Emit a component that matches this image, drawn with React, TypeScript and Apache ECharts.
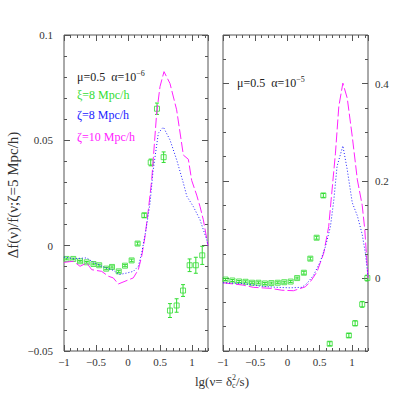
import React, { useEffect, useRef } from 'react';
import * as echarts from 'echarts';

const FONT = "'Liberation Serif', 'DejaVu Serif', serif";
const MAGENTA = '#ff22ff';
const BLUE = '#2222ff';
const GREEN = '#33dd33';
const AXIS = '#555';
const TEXT = '#333';

// ---- left panel (alpha = 1e-6) ----
const leftMagentaX = [-1, -0.855, -0.75, -0.645, -0.567, -0.411, -0.307, -0.23, -0.152, -0.047, 0.083, 0.161, 0.214, 0.266, 0.318, 0.37, 0.448, 0.5, 0.5625, 0.656, 0.76, 0.865, 0.943, 0.995, 1.073, 1.125, 1.177, 1.25];
const leftMagentaY = [-0.0079, -0.0074, -0.0098, -0.0082, -0.0114, -0.0122, -0.0145, -0.0153, -0.0182, -0.0169, -0.0153, -0.0114, -0.005, 0.0044, 0.017, 0.031, 0.063, 0.0755, 0.0826, 0.077, 0.0645, 0.043, 0.041, 0.031, 0.024, 0.0186, 0.0123, 0];

const leftBlueX = [-1, -0.85, -0.645, -0.542, -0.386, -0.23, -0.136, -0.02, 0.083, 0.161, 0.214, 0.281, 0.344, 0.39, 0.474, 0.552, 0.656, 0.76, 0.865, 0.92, 1.02, 1.125, 1.23, 1.25];
const leftBlueY = [-0.0054, -0.0062, -0.0058, -0.0079, -0.0101, -0.0117, -0.0137, -0.013, -0.0122, -0.0098, -0.0035, 0.0076, 0.0202, 0.035, 0.0534, 0.0563, 0.0502, 0.0408, 0.0297, 0.0234, 0.0186, 0.0123, 0.0028, 0];

const leftGreenX = [-0.96, -0.855, -0.75, -0.645, -0.54, -0.45, -0.34, -0.25, -0.145, -0.047, 0.057, 0.15, 0.255, 0.355, 0.453, 0.557, 0.656, 0.76, 0.86, 0.963, 1.06, 1.16];
const leftGreenY = [-0.0063, -0.0063, -0.0074, -0.0079, -0.0087, -0.0093, -0.0109, -0.0101, -0.0122, -0.0095, -0.007, 0.001, 0.0144, 0.0395, 0.065, 0.042, -0.0308, -0.0284, -0.0213, -0.0093, -0.0093, -0.0046];
const leftGreenErr = [0.0004, 0.0004, 0.0004, 0.0004, 0.0004, 0.0005, 0.0005, 0.0005, 0.0005, 0.0005, 0.0006, 0.0007, 0.001, 0.0016, 0.0027, 0.0025, 0.0033, 0.0032, 0.0028, 0.003, 0.0038, 0.0043];

// ---- right panel (alpha = 1e-5) ----
const rightMagentaX = [-1, -0.69, -0.53, -0.27, -0.087, 0.094, 0.277, 0.355, 0.459, 0.5625, 0.64, 0.678, 0.745, 0.797, 0.86, 0.928, 1.006, 1.085, 1.16, 1.2, 1.23, 1.25];
const rightMagentaY = [-0.0097, -0.0144, -0.019, -0.021, -0.025, -0.026, -0.018, -0.0076, 0.013, 0.051, 0.106, 0.161, 0.257, 0.353, 0.401, 0.37, 0.291, 0.202, 0.15, 0.1, 0.04, 0];

const rightBlueX = [-1, -0.69, -0.43, -0.166, 0.04, 0.225, 0.303, 0.406, 0.51, 0.59, 0.667, 0.72, 0.77, 0.86, 0.928, 1.006, 1.085, 1.16, 1.21, 1.25];
const rightBlueY = [-0.0096, -0.011, -0.0165, -0.019, -0.02, -0.019, -0.011, 0.006, 0.034, 0.065, 0.106, 0.161, 0.23, 0.272, 0.223, 0.155, 0.128, 0.09, 0.051, 0.003];

const rightGreenX = [-0.96, -0.855, -0.75, -0.65, -0.55, -0.45, -0.35, -0.25, -0.15, -0.05, 0.05, 0.15, 0.255, 0.355, 0.453, 0.557, 0.656, 0.953, 1.05, 1.16, 1.24];
const rightGreenY = [-0.003, -0.005, -0.007, -0.0076, -0.0096, -0.0096, -0.011, -0.0103, -0.0096, -0.0085, -0.0072, 0, 0.011, 0.04, 0.083, 0.17, -0.135, -0.118, -0.093, -0.054, 0];
const rightGreenErr = [0.002, 0.002, 0.002, 0.002, 0.002, 0.002, 0.002, 0.002, 0.002, 0.002, 0.002, 0.002, 0.003, 0.003, 0.003, 0.004, 0.004, 0.004, 0.005, 0.006, 0.006];

const zip = (xs: number[], ys: number[]) => xs.map((x, i) => [x, ys[i]]);
const zip3 = (xs: number[], ys: number[], es: number[]) => xs.map((x, i) => [x, ys[i], es[i]]);

const fmt = (v: number) => String(Math.round(v * 1000) / 1000).replace('-', '\u2212');

const renderErr = (params: any, api: any) => {
  const x = api.value(0);
  const y = api.value(1);
  const e = api.value(2);
  const t = api.coord([x, y + e]);
  const b = api.coord([x, y - e]);
  const c = 2;
  const style = { stroke: GREEN, lineWidth: 1 };
  return {
    type: 'group',
    children: [
      { type: 'line', shape: { x1: t[0], y1: t[1], x2: b[0], y2: b[1] }, style },
      { type: 'line', shape: { x1: t[0] - c, y1: t[1], x2: t[0] + c, y2: t[1] }, style },
      { type: 'line', shape: { x1: b[0] - c, y1: b[1], x2: b[0] + c, y2: b[1] }, style },
    ],
  };
};

const noLine = { show: false, onZero: false };
const tick = (length: number) => ({ inside: true, length, lineStyle: { color: AXIS } });
const labelStyle = { color: TEXT, fontFamily: FONT, fontSize: 11 };

function xAxes(gridIndex: number) {
  const base = { type: 'value', gridIndex, min: -1, max: 1.25, splitLine: { show: false }, axisLine: noLine };
  return [
    { ...base, position: 'bottom', interval: 0.5, axisTick: tick(6),
      axisLabel: { margin: 5, showMaxLabel: false, formatter: fmt, ...labelStyle } },
    { ...base, position: 'bottom', interval: 0.1, axisTick: tick(3), axisLabel: { show: false } },
    { ...base, position: 'top', interval: 0.5, axisTick: tick(6), axisLabel: { show: false } },
    { ...base, position: 'top', interval: 0.1, axisTick: tick(3), axisLabel: { show: false } },
  ];
}

function lineSeries(data: number[][], color: string, dash: number[], xi: number, yi: number) {
  return {
    type: 'line', data, xAxisIndex: xi, yAxisIndex: yi, showSymbol: false, symbol: 'none', clip: true,
    lineStyle: { color, width: 1, type: dash }, silent: true,
  };
}

function greenSeries(data: number[][], xi: number, yi: number) {
  return [
    { type: 'custom', data, xAxisIndex: xi, yAxisIndex: yi, renderItem: renderErr, clip: true, silent: true, encode: { x: 0, y: 1 } },
    { type: 'scatter', data: data.map(d => [d[0], d[1]]), xAxisIndex: xi, yAxisIndex: yi, symbol: 'rect', symbolSize: 5, clip: true, silent: true,
      itemStyle: { color: 'rgba(0,0,0,0)', borderColor: GREEN, borderWidth: 1 } },
  ];
}

function measure(text: string, size: number) {
  const ctx = document.createElement('canvas').getContext('2d')!;
  ctx.font = `${size}px ${FONT}`;
  return ctx.measureText(text).width;
}

export default function App() {
  const ref = useRef<HTMLDivElement>(null);
  useEffect(() => {
    if (!ref.current) return;
    const chart = echarts.init(ref.current, undefined, { renderer: 'svg' });

    const tSize = 13;
    const p1 = 'lg(\u03bd= \u03b4';
    const p3 = '/s)';
    const w1 = measure(p1, tSize);
    const w2 = measure('2', 8);
    const w3 = measure(p3, tSize);
    const total = w1 + w2 + w3;
    const cx = 222;
    const cy = 381;
    const x0 = cx - total / 2;

    const legendRich = {
      m: { fontFamily: FONT, fontSize: 12, fill: '#222', lineHeight: 14, verticalAlign: 'bottom' },
      s: { fontFamily: FONT, fontSize: 8, fill: '#222', lineHeight: 14, verticalAlign: 'top' },
    };
    const txt = (text: string, fill: string, size: number) => ({ text, fill, fontFamily: FONT, fontSize: size });

    const option: any = {
      animation: false,
      textStyle: { fontFamily: FONT },
      grid: [
        { left: 64, top: 35, width: 144, height: 316, show: true, borderColor: AXIS, borderWidth: 1, backgroundColor: 'transparent' },
        { left: 223, top: 35, width: 145, height: 316, show: true, borderColor: AXIS, borderWidth: 1, backgroundColor: 'transparent' },
      ],
      xAxis: [...xAxes(0), ...xAxes(1)],
      yAxis: [
        { type: 'value', gridIndex: 0, position: 'left', min: -0.05, max: 0.1, interval: 0.05, splitLine: { show: false }, axisLine: noLine,
          axisTick: tick(6), minorTick: { show: true, splitNumber: 5, length: 3, lineStyle: { color: AXIS } },
          axisLabel: { margin: 11, formatter: fmt, ...labelStyle } },
        { type: 'value', gridIndex: 0, position: 'right', min: -0.05, max: 0.1, interval: 0.05, splitLine: { show: false }, axisLine: noLine,
          axisTick: tick(6), minorTick: { show: true, splitNumber: 5, length: 3, lineStyle: { color: AXIS } },
          axisLabel: { show: false } },
        { type: 'value', gridIndex: 1, position: 'left', min: -0.15, max: 0.5, interval: 0.05, splitLine: { show: false }, axisLine: noLine,
          axisTick: tick(3), axisLabel: { show: false } },
        { type: 'value', gridIndex: 1, position: 'left', min: -0.15, max: 0.5, splitNumber: 3, splitLine: { show: false }, axisLine: noLine,
          axisTick: tick(6), axisLabel: { show: false } },
        { type: 'value', gridIndex: 1, position: 'right', min: -0.15, max: 0.5, interval: 0.05, splitLine: { show: false }, axisLine: noLine,
          axisTick: tick(3), axisLabel: { show: false } },
        { type: 'value', gridIndex: 1, position: 'right', min: -0.15, max: 0.5, splitNumber: 3, splitLine: { show: false }, axisLine: noLine,
          axisTick: tick(6),
          axisLabel: { margin: 7, showMinLabel: false, showMaxLabel: false, formatter: fmt, ...labelStyle } },
      ],
      series: [
        lineSeries(zip(leftMagentaX, leftMagentaY), MAGENTA, [10, 3], 0, 0),
        lineSeries(zip(leftBlueX, leftBlueY), BLUE, [1, 2], 0, 0),
        ...greenSeries(zip3(leftGreenX, leftGreenY, leftGreenErr), 0, 0),
        lineSeries(zip(rightMagentaX, rightMagentaY), MAGENTA, [10, 3], 4, 2),
        lineSeries(zip(rightBlueX, rightBlueY), BLUE, [1, 2], 4, 2),
        ...greenSeries(zip3(rightGreenX, rightGreenY, rightGreenErr), 4, 2),
      ],
      graphic: [
        { type: 'text', left: 77, top: 69, style: { text: '{m|\u03bc=0.5  \u03b1=10}{s|\u22126}', rich: legendRich } },
        { type: 'text', left: 77, top: 89, style: txt('\u03be=8 Mpc/h', GREEN, 12) },
        { type: 'text', left: 77, top: 109, style: txt('\u03b6=8 Mpc/h', BLUE, 12) },
        { type: 'text', left: 77, top: 131, style: txt('\u03b6=10 Mpc/h', MAGENTA, 12) },
        { type: 'text', left: 237, top: 75, style: { text: '{m|\u03bc=0.5  \u03b1=10}{s|\u22125}', rich: legendRich } },
        { type: 'text', x: 13, y: 195, rotation: Math.PI / 2,
          style: { ...txt('\u0394f(\u03bd)/f(\u03bd;\u03b6=5 Mpc/h)', TEXT, 15), align: 'center', verticalAlign: 'middle' } },
        { type: 'text', x: x0, y: cy, style: { ...txt(p1, TEXT, tSize), align: 'left', verticalAlign: 'middle' } },
        { type: 'text', x: x0 + w1, y: cy - 4, style: { ...txt('2', TEXT, 8), align: 'left', verticalAlign: 'middle' } },
        { type: 'text', x: x0 + w1, y: cy + 4, style: { ...txt('c', TEXT, 8), align: 'left', verticalAlign: 'middle' } },
        { type: 'text', x: x0 + w1 + w2, y: cy, style: { ...txt(p3, TEXT, tSize), align: 'left', verticalAlign: 'middle' } },
      ],
    };
    chart.setOption(option);
    return () => chart.dispose();
  }, []);
  return <div ref={ref} style={{ position: 'fixed', left: 0, top: 0, width: 415, height: 415, background: '#fff' }} />;
}
